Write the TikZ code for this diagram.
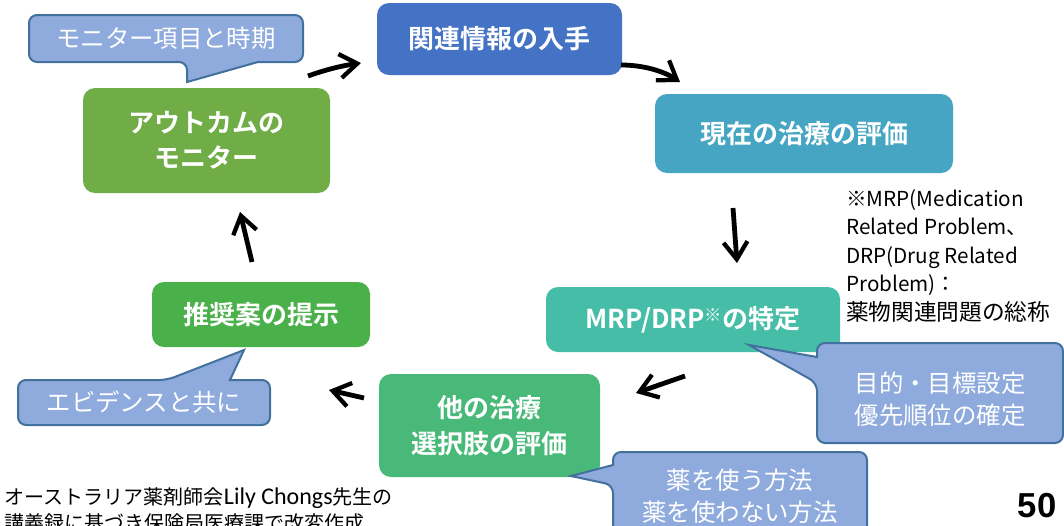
\documentclass[tikz,border=0pt]{standalone}
\usepackage{fontspec}
\setmainfont{Noto Sans CJK JP}[BoldFont={Noto Sans CJK JP Bold}]
\newfontfamily\numfont{Liberation Sans}
\newfontfamily\latinfont{Carlito}
\usetikzlibrary{arrows.meta}
\definecolor{cInfo}{HTML}{4472C4}
\definecolor{cCur}{HTML}{46A5C3}
\definecolor{cMrp}{HTML}{46BDA7}
\definecolor{cOther}{HTML}{48B978}
\definecolor{cRec}{HTML}{4AB04A}
\definecolor{cOut}{HTML}{70AD47}
\definecolor{cCallFill}{HTML}{8FAADC}
\definecolor{cCallLine}{HTML}{41719C}
\tikzset{
  stepbox/.style={rounded corners=9pt, text=white, align=center,
    font=\bfseries\fontsize{19.5pt}{26.5pt}\selectfont, inner sep=0pt},
  callout/.style={fill=cCallFill, draw=cCallLine, line width=1.5pt},
  calltext/.style={text=white, align=center, font=\fontsize{18.3pt}{24pt}\selectfont, inner sep=0pt},
  flow/.style={line width=3.6pt, -{Straight Barb[length=13pt,width=18pt,line width=3.2pt]}}
}
\begin{document}
\begin{tikzpicture}[x=0.75pt,y=-0.75pt]
\path[use as bounding box] (0,0) rectangle (1064,525);
\clip (0,0) rectangle (1064,525);

% step boxes
\node[stepbox, fill=cInfo, minimum width=183.75pt, minimum height=54pt] (info) at (499.5,39) {関連情報の入手};
\node[stepbox, fill=cCur, minimum width=223.5pt, minimum height=59.25pt] (cur) at (804,133.5) {現在の治療の評価};
\node[stepbox, fill=cMrp, minimum width=220.5pt, minimum height=48.75pt] (mrp) at (693,319.5) {MRP/DRP\raisebox{0.45ex}{\fontsize{13pt}{13pt}\selectfont ※}の特定};
\node[stepbox, fill=cOther, minimum width=165.75pt, minimum height=77.25pt] (other) at (489.5,425.5) {他の治療\\選択肢の評価};
\node[stepbox, fill=cRec, minimum width=163.5pt, minimum height=48.75pt] (rec) at (261,314.5) {推奨案の提示};
\node[stepbox, fill=cOut, minimum width=185.25pt, minimum height=78.75pt] (out) at (206.5,140.5) {アウトカムの\\モニター};

% callouts
\draw[callout] (120,15) [rounded corners=6pt] -- (29,15) -- (29,62) -- (187,62) [sharp corners] -- (187,82) -- (258,62) [rounded corners=6pt] -- (303,62) -- (303,15) -- cycle;
\node[calltext] (cmon) at (166,38.5) {モニター項目と時期};

\draw[callout] (100,425) [rounded corners=6pt] -- (18,425) -- (18,380) -- (167,380) [sharp corners] -- (244,350) -- (230,380) [rounded corners=6pt] -- (270,380) -- (270,425) -- cycle;
\node[calltext] (cevi) at (144,402.5) {エビデンスと共に};

\draw[callout] (940,443) [rounded corners=6pt] -- (817,443) -- (817,383) [sharp corners] -- (749,345) -- (817,357) [rounded corners=6pt] -- (817,343) -- (1063,343) -- (1063,443) -- cycle;
\node[calltext] (cgoal) at (940,399) {目的・目標設定\\優先順位の確定};

\draw[callout] (740,540) [rounded corners=6pt] -- (613,540) -- (613,485) [sharp corners] -- (571,476) -- (613,465) [rounded corners=6pt] -- (613,452) -- (867,452) -- (867,540) -- cycle;
\node[calltext] (cdrug) at (740,496) {薬を使う方法\\薬を使わない方法};

% arrows
\coordinate (a1s) at (308,76);  \coordinate (a1e) at (361,63);
\coordinate (a2s) at (621,65);  \coordinate (a2e) at (680,82);
\coordinate (a3s) at (733,208); \coordinate (a3e) at (737,263);
\coordinate (a4s) at (685,376); \coordinate (a4e) at (636,393);
\coordinate (a5s) at (364,398); \coordinate (a5e) at (329,390);
\coordinate (a6s) at (252,262); \coordinate (a6e) at (240,212);
\draw[flow] (a1s) .. controls (325,70) and (340,66) .. (a1e);
\draw[flow] (a2s) .. controls (645,65) and (665,72) .. (a2e);
\draw[flow] (a3s) -- (a3e);
\draw[flow] (a4s) -- (a4e);
\draw[flow] (a5s) -- (a5e);
\draw[flow] (a6s) -- (a6e);

% note
\node[anchor=north west, align=left, inner sep=0pt, font=\fontsize{15.5pt}{21.4pt}\selectfont] (note) at (846,189)
  {※MRP(Medication\\Related Problem、\\DRP(Drug Related\\Problem)：\\{\fontsize{17pt}{21.4pt}\selectfont 薬物関連問題の総称}};

% source text
\node[anchor=base east, inner sep=0pt, font=\fontsize{15pt}{19.5pt}\selectfont] (src1) at (393,504) {オーストラリア薬剤師会{\latinfont\fontsize{18pt}{19.5pt}\selectfont Lily Chongs}先生の};
\node[anchor=base west, inner sep=0pt, font=\fontsize{15pt}{19.5pt}\selectfont] (src2) at (src1.base west) [yshift=-19.5pt] {講義録に基づき保険局医療課で改変作成};

% page number
\node[inner sep=0pt, font=\numfont\bfseries\fontsize{26pt}{26pt}\selectfont] (page) at (1037,506) {50};
\end{tikzpicture}
\end{document}
